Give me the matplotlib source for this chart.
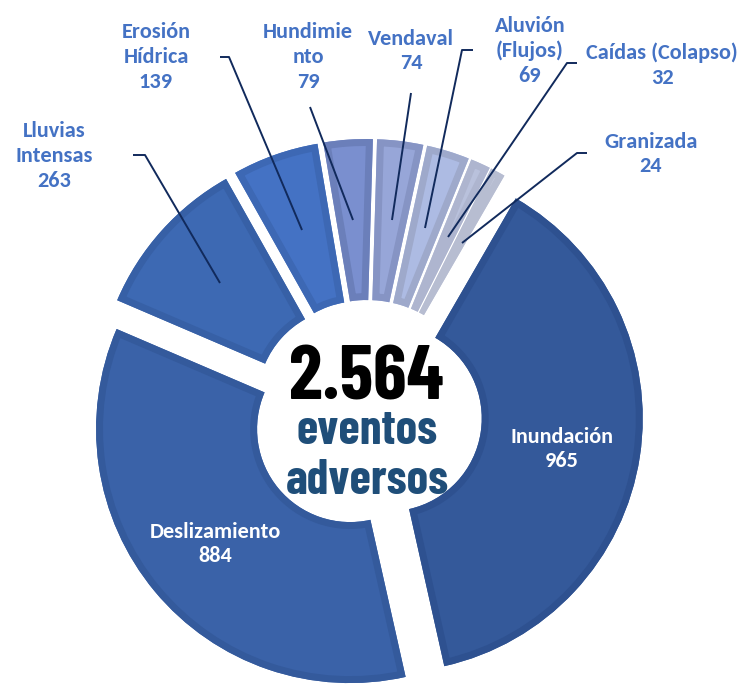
import numpy as np
import matplotlib.pyplot as plt

W, H = 741, 685

# datos
categorias = ['Inundación', 'Deslizamiento', 'Lluvias\nIntensas', 'Erosión\nHídrica',
              'Hundimie\nnto', 'Vendaval', 'Aluvión\n(Flujos)', 'Caídas (Colapso)', 'Granizada']
eventos = [965, 884, 263, 139, 79, 74, 69, 32, 24]
total_txt = '2.564'

relleno = ['#34599a', '#3a62a8', '#3d69b3', '#4472c4', '#7a8fcf',
           '#97a6d8', '#adbbe3', '#b9c1dc', '#c2c8dc']
borde = ['#2e5190', '#345a9c', '#3760a6', '#3d68b4', '#6b7fba',
         '#8694c4', '#9ea9cb', '#aeb5cf', '#b7bdd1']

fig = plt.figure(figsize=(W / 100, H / 100), dpi=100)
ax = fig.add_axes([0, 0, 1, 1])

cx, cy = 367, H - 415
R, r = 254, 93
sep = 22

wedges, _ = ax.pie(eventos, radius=R, center=(cx, cy), startangle=60, counterclock=False,
                   explode=[sep] * len(eventos), colors=relleno,
                   wedgeprops=dict(width=R - r, linewidth=0))
# borde interior: mismo sector, trazo grueso recortado al propio sector
bordes, _ = ax.pie(eventos, radius=R, center=(cx, cy), startangle=60, counterclock=False,
                   explode=[sep] * len(eventos),
                   wedgeprops=dict(width=R - r, facecolor='none', linewidth=10))
for w, b, c in zip(wedges, bordes, borde):
    b.set_edgecolor(c)
    b.set_clip_on(True)
    b.set_clip_path(w)

ax.set_xlim(0, W)
ax.set_ylim(0, H)
ax.set_aspect('equal')
ax.axis('off')

calibri = ['Carlito', 'Lato', 'DejaVu Sans']

# etiquetas externas (x, y en pixeles de imagen)
lab_font = dict(family=calibri, weight='bold', fontsize=16,
                color='#4472c4', ha='center', va='center', linespacing=1.3)
pos_ext = {2: (54, 156), 3: (156, 57), 4: (308, 57), 5: (411, 51),
           6: (530, 51), 7: (662, 65), 8: (651, 154)}
for i, (x, y) in pos_ext.items():
    ax.text(x, H - y, categorias[i] + '\n' + str(eventos[i]), **lab_font)

# etiquetas internas
in_font = dict(family=calibri, weight='bold', fontsize=16,
               color='white', ha='center', va='center', linespacing=1.3)
ax.text(562, H - 449, categorias[0] + '\n' + str(eventos[0]), **in_font)
ax.text(215, H - 544, categorias[1] + '\n' + str(eventos[1]), **in_font)

# lineas guia
guias = [
    [(133, 155), (145, 155), (220, 283)],
    [(220, 57), (229, 57), (302, 230)],
    [(310, 107), (353, 220)],
    [(411, 93), (392, 220)],
    [(473, 50), (462, 50), (425, 228)],
    [(577, 63), (567, 63), (448, 237)],
    [(587, 153), (577, 153), (462, 243)],
]
for g in guias:
    xs = [p[0] for p in g]
    ys = [H - p[1] for p in g]
    ax.plot(xs, ys, color='#112a5c', lw=1.4, solid_capstyle='butt')

# texto central
cond = ['Barlow Condensed', 'DejaVu Sans']
ax.text(366, H - 399, total_txt, family=cond, weight='bold', fontsize=55,
        color='black', ha='center', va='baseline')
ax.text(367, H - 444, 'eventos', family=cond, weight='bold', fontsize=35,
        color='#1f4e79', ha='center', va='baseline')
ax.text(367, H - 494, 'adversos', family=cond, weight='bold', fontsize=35,
        color='#1f4e79', ha='center', va='baseline')

fig.savefig('out.png', dpi=100, facecolor='white')
